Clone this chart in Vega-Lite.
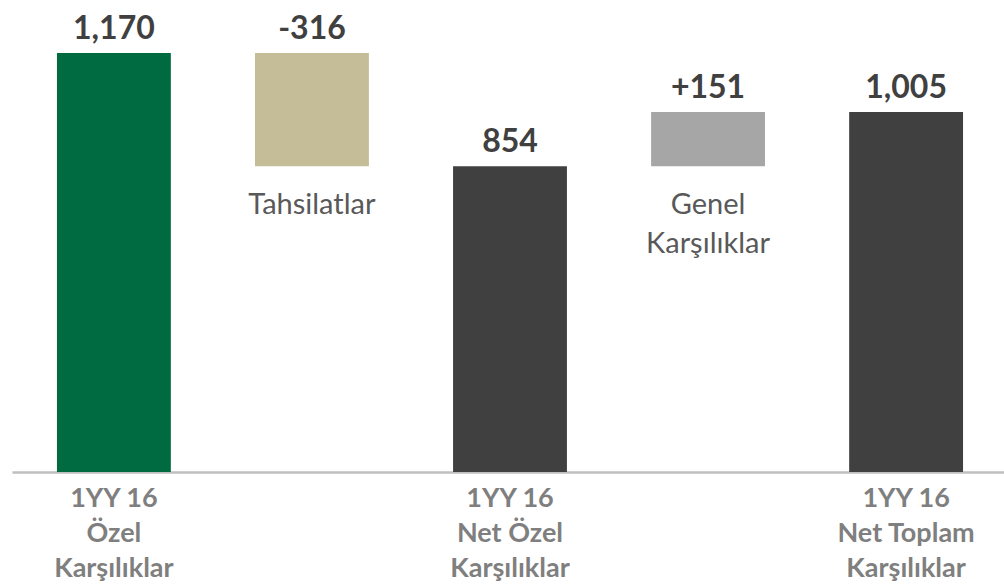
{
  "$schema": "https://vega.github.io/schema/vega-lite/v6.json",
  "width": 996,
  "height": 472,
  "autosize": {"type": "none"},
  "padding": {"left": 12, "top": 0, "right": 0, "bottom": 113},
  "background": "white",
  "config": {"view": {"stroke": null}, "font": "Lato"},
  "data": {
    "values": [
      {"cat": "1YY 16|Özel|Karşılıklar", "kind": "opening", "start": 0, "end": 1170, "label": "1,170", "note": ""},
      {"cat": "Tahsilatlar", "kind": "decrease", "start": 854, "end": 1170, "label": "-316", "note": "Tahsilatlar"},
      {"cat": "1YY 16|Net Özel|Karşılıklar", "kind": "subtotal", "start": 0, "end": 854, "label": "854", "note": ""},
      {"cat": "Genel Karşılıklar", "kind": "increase", "start": 854, "end": 1005, "label": "+151", "note": "Genel|Karşılıklar"},
      {"cat": "1YY 16|Net Toplam|Karşılıklar", "kind": "total", "start": 0, "end": 1005, "label": "1,005", "note": ""}
    ]
  },
  "encoding": {
    "x": {
      "field": "cat",
      "type": "nominal",
      "sort": null,
      "scale": {"paddingInner": 0.425, "paddingOuter": 0.227},
      "axis": {
        "title": null,
        "labelAngle": 0,
        "ticks": false,
        "domainColor": "#BFBFBF",
        "domainWidth": 2.5,
        "labelFont": "Lato",
        "labelFontWeight": "bold",
        "labelFontSize": 27,
        "labelColor": "#7F7F7F",
        "labelPadding": 13,
        "labelLineHeight": 35,
        "labelExpr": "indexof(datum.value, '|') >= 0 ? split(datum.value, '|') : ''"
      }
    }
  },
  "layer": [
    {
      "mark": {"type": "bar"},
      "encoding": {
        "y": {"field": "end", "type": "quantitative", "scale": {"domain": [0, 1318], "nice": false, "zero": true}, "axis": null},
        "y2": {"field": "start"},
        "color": {
          "field": "kind",
          "type": "nominal",
          "scale": {"domain": ["opening", "decrease", "subtotal", "increase", "total"], "range": ["#006A40", "#C4BD97", "#404040", "#A6A6A6", "#404040"]},
          "legend": null
        }
      }
    },
    {
      "mark": {"type": "text", "font": "Lato", "fontWeight": "bold", "fontSize": 32, "color": "#404040", "baseline": "alphabetic", "dy": -14},
      "encoding": {
        "y": {"field": "end", "type": "quantitative"},
        "text": {"field": "label"}
      }
    },
    {
      "transform": [{"filter": "datum.note != ''"}, {"calculate": "split(datum.note, '|')", "as": "noteLines"}],
      "mark": {"type": "text", "font": "Lato", "fontSize": 29, "color": "#595959", "baseline": "top", "dy": 25, "lineHeight": 39},
      "encoding": {
        "y": {"field": "start", "type": "quantitative"},
        "text": {"field": "noteLines"}
      }
    }
  ]
}
